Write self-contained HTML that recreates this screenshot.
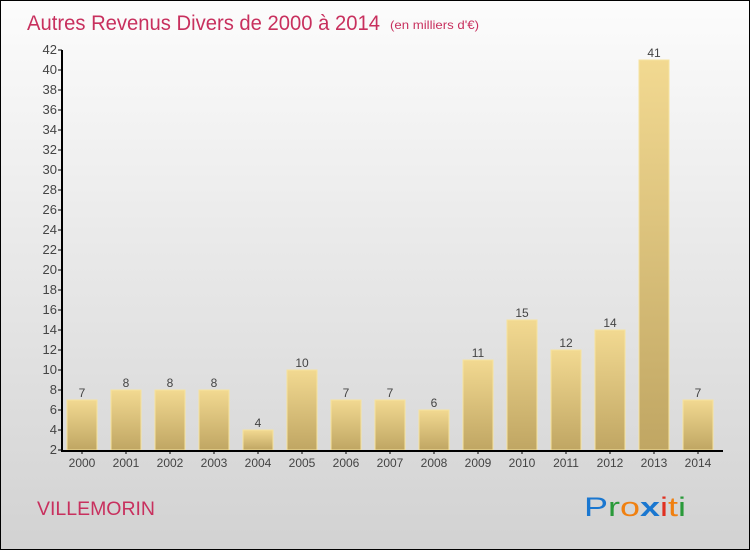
<!DOCTYPE html>
<html><head><meta charset="utf-8"><style>
body{margin:0;}
#c{width:748px;height:548px;border:1px solid #000;background:linear-gradient(#fcfcfc,#d2d2d2);position:relative;overflow:hidden;font-family:"Liberation Sans",sans-serif;}
</style></head><body>
<div id="c">
<svg id="s" width="748" height="548" style="position:absolute;left:0;top:0">
<defs><linearGradient id="bg" x1="0" y1="0" x2="0" y2="1"><stop offset="0" stop-color="#f2d991"/><stop offset="1" stop-color="#c0a663"/></linearGradient></defs>
<text x="26" y="29" font-size="21" fill="#c8305e" textLength="353" lengthAdjust="spacingAndGlyphs">Autres Revenus Divers de 2000 à 2014</text>
<text x="389" y="28" font-size="12" fill="#c8305e" textLength="89" lengthAdjust="spacingAndGlyphs">(en milliers d'€)</text>
<text x="36" y="514" font-size="19" fill="#c8305e" textLength="118" lengthAdjust="spacingAndGlyphs">VILLEMORIN</text>
<text x="583" y="515" font-size="27" textLength="102" lengthAdjust="spacingAndGlyphs"><tspan fill="#1a77d0">P</tspan><tspan fill="#2a9a3a">r</tspan><tspan fill="#f08010">o</tspan><tspan fill="#1a77d0" font-weight="bold">x</tspan><tspan fill="#e03020">i</tspan><tspan fill="#f08010">t</tspan><tspan fill="#2a9a3a">i</tspan></text>
<g id="g"></g>
</svg></div>
<script>
const years=["2000","2001","2002","2003","2004","2005","2006","2007","2008","2009","2010","2011","2012","2013","2014"];
const values=[7,8,8,8,4,10,7,7,6,11,15,12,14,41,7];
const yTicks=[2,4,6,8,10,12,14,16,18,20,22,24,26,28,30,32,34,36,38,40,42];
const g=document.getElementById('g');const NS="http://www.w3.org/2000/svg";
const y=v=>449-(v-2)*10, x=i=>81+i*44;
function mk(t,a){const e=document.createElementNS(NS,t);for(const k in a)e.setAttribute(k,a[k]);g.appendChild(e);return e;}
values.forEach((v,i)=>{
 const r=mk('rect',{x:x(i)-15,y:y(v),width:30,height:449-y(v),fill:'url(#bg)',stroke:'#f6e39f','stroke-width':1});
 
 
 const t=mk('text',{x:x(i),y:y(v)-3,'font-size':12,fill:'#444','text-anchor':'middle'});t.textContent=v;
 
 
 const l=mk('text',{x:x(i),y:466,'font-size':12,fill:'#444','text-anchor':'middle'});l.textContent=years[i];
 
 
 mk('line',{x1:x(i),x2:x(i),y1:449,y2:453,stroke:'#000'});
});
yTicks.forEach(v=>{
 mk('line',{x1:57,x2:61,y1:y(v),y2:y(v),stroke:'#000'});
 const t=mk('text',{x:56,y:y(v)+4,'font-size':13,fill:'#444','text-anchor':'end'});t.textContent=v;
 
 
});
const ya=mk('line',{x1:61,x2:61,y1:y(42),y2:450,stroke:'#000','stroke-width':2});


const xa=mk('line',{x1:60,x2:722,y1:450,y2:450,stroke:'#000','stroke-width':2});


</script>
</body></html>
